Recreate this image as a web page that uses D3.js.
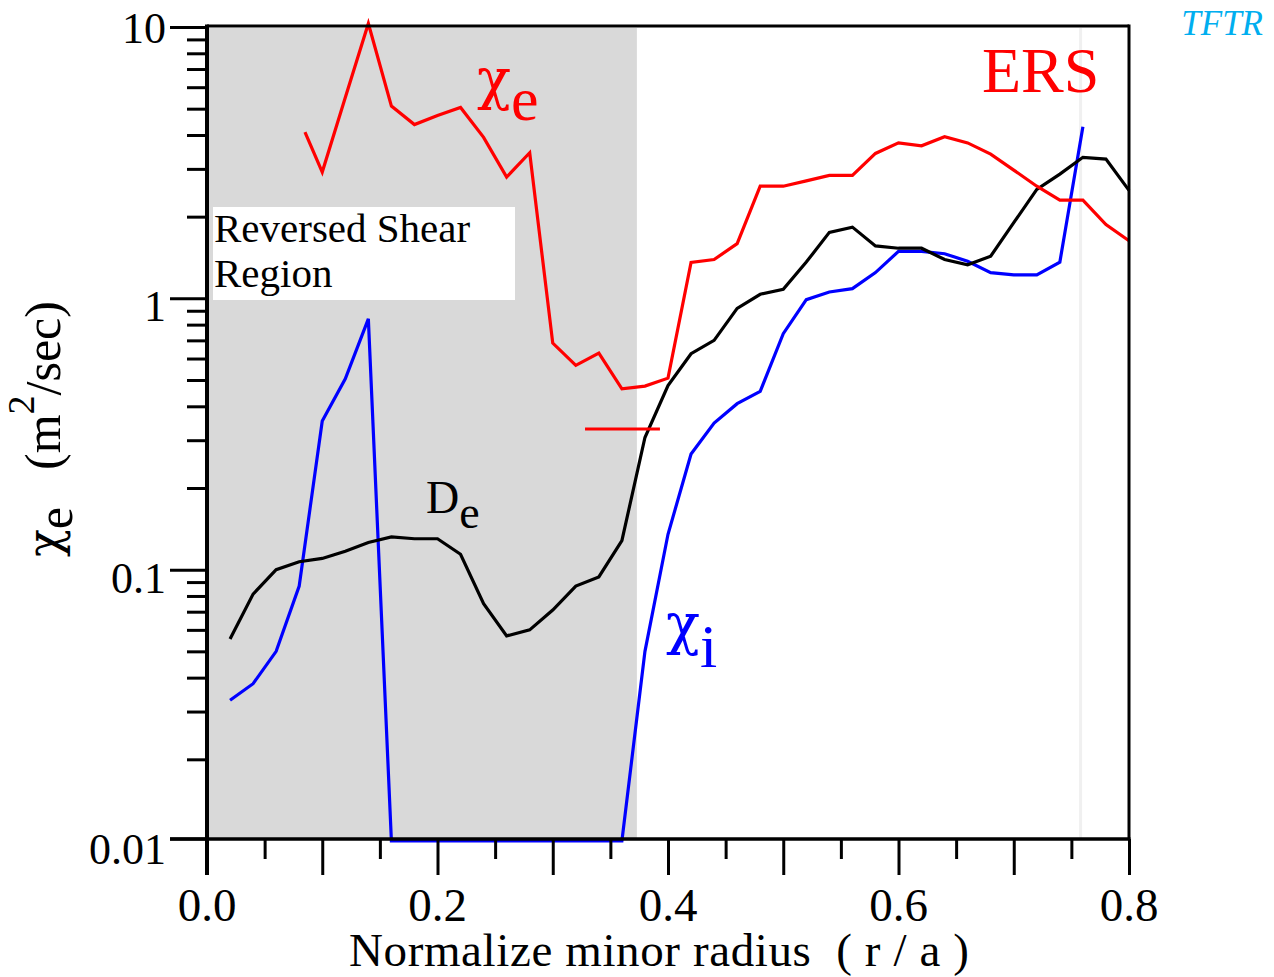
<!DOCTYPE html>
<html>
<head>
<meta charset="utf-8">
<script src="https://cdn.jsdelivr.net/npm/d3@7"></script>
<style>
  body { margin: 0; background: #fff; }
  text { font-family: "Liberation Serif", "Times New Roman", serif; }
  .chi { font-family: "DejaVu Serif", serif; }
</style>
</head>
<body>
<div id="chart"></div>
<script>
// r/a grid shared by the profiles
var radius = [0.02, 0.04, 0.06, 0.08, 0.10, 0.12, 0.14, 0.16, 0.18, 0.20,
  0.22, 0.24, 0.26, 0.28, 0.30, 0.32, 0.34, 0.36, 0.38, 0.40,
  0.42, 0.44, 0.46, 0.48, 0.50, 0.52, 0.54, 0.56, 0.58, 0.60,
  0.62, 0.64, 0.66, 0.68, 0.70, 0.72, 0.74, 0.76, 0.78, 0.80];

// D_e (black)
var De = [0.0555, 0.0813, 0.100, 0.107, 0.110, 0.117, 0.126, 0.132, 0.130, 0.130,
  0.114, 0.075, 0.057, 0.060, 0.071, 0.087, 0.094, 0.128, 0.307, 0.477,
  0.625, 0.700, 0.918, 1.035, 1.08, 1.36, 1.75, 1.83, 1.56, 1.53,
  1.53, 1.39, 1.33, 1.43, 1.90, 2.52, 2.87, 3.31, 3.26, 2.50];

// chi_i (blue), ends at r/a = 0.76
var chiI = [0.033, 0.038, 0.050, 0.087, 0.353, 0.505, 0.84, 0.01, 0.01, 0.01,
  0.01, 0.01, 0.01, 0.01, 0.01, 0.01, 0.01, 0.01, 0.050, 0.135,
  0.267, 0.347, 0.409, 0.454, 0.741, 0.989, 1.055, 1.086, 1.244, 1.49,
  1.49, 1.46, 1.37, 1.244, 1.22, 1.22, 1.36, 4.29];

// chi_e (red) starts a bit later
var chiER = [0.085, 0.10, 0.12, 0.14, 0.16, 0.18, 0.20, 0.22, 0.24, 0.26,
  0.28, 0.30, 0.32, 0.34, 0.36, 0.38, 0.40, 0.42, 0.44, 0.46,
  0.48, 0.50, 0.52, 0.54, 0.56, 0.58, 0.60, 0.62, 0.64, 0.66,
  0.68, 0.70, 0.72, 0.74, 0.76, 0.78, 0.80];
var chiE = [4.10, 2.92, 5.5, 10.3, 5.11, 4.37, 4.72, 5.05, 3.92, 2.80,
  3.44, 0.684, 0.566, 0.628, 0.464, 0.475, 0.508, 1.355, 1.39, 1.59,
  2.59, 2.59, 2.71, 2.84, 2.84, 3.42, 3.74, 3.65, 3.94, 3.74,
  3.40, 2.97, 2.59, 2.30, 2.30, 1.87, 1.63];

// short red level bar
var barR = [0.328, 0.393];
var barVal = [0.33, 0.33];

// reversed shear region
var shearR = [0, 0.373];

var xTicks = [0, 0.2, 0.4, 0.6, 0.8];
var xTickLabels = ["0.0", "0.2", "0.4", "0.6", "0.8"];
var yTicks = [10, 1, 0.1, 0.01];
var yTickLabels = ["10", "1", "0.1", "0.01"];

var width = 1274;
var height = 977;

var svg = d3.select("#chart").append("svg").attr("width", width).attr("height", height);

var x = d3.scaleLinear().domain([0, 0.8]).range([207, 1129]);
var y = d3.scaleLog().domain([0.01, 10]).range([841, 27]);
var axisY = 839;

// grey shaded region
svg.append("rect")
  .attr("x", x(shearR[0])).attr("y", 28)
  .attr("width", x(shearR[1]) - x(shearR[0])).attr("height", axisY - 28)
  .attr("fill", "#d9d9d9");

// faint vertical line near the edge
svg.append("line")
  .attr("x1", x(0.758)).attr("x2", x(0.758)).attr("y1", 28).attr("y2", axisY)
  .attr("stroke", "#f0f0f0").attr("stroke-width", 3);

// reversed shear label box
svg.append("rect").attr("x", 213).attr("y", 207).attr("width", 302).attr("height", 93).attr("fill", "#fff");
svg.append("text").attr("x", 214).attr("y", 242).attr("font-size", 41).text("Reversed Shear");
svg.append("text").attr("x", 214).attr("y", 287).attr("font-size", 41).text("Region");

var line = d3.line().x(function (d) { return x(d[0]); }).y(function (d) { return y(d[1]); });

function pairs(rs, vs) {
  return vs.map(function (v, i) { return [rs[i], v]; });
}

svg.append("path").datum(pairs(radius, chiI))
  .attr("d", line).attr("fill", "none").attr("stroke", "#0000ff").attr("stroke-width", 3.2);
svg.append("path").datum(pairs(radius, De))
  .attr("d", line).attr("fill", "none").attr("stroke", "#000").attr("stroke-width", 3.2);
svg.append("path").datum(pairs(chiER, chiE))
  .attr("d", line).attr("fill", "none").attr("stroke", "#ff0000").attr("stroke-width", 3.2);
svg.append("path").datum(pairs(barR, barVal))
  .attr("d", line).attr("fill", "none").attr("stroke", "#ff0000").attr("stroke-width", 3.2);

// frame
var frame = svg.append("g").attr("stroke", "#000").attr("fill", "none");
frame.append("line").attr("x1", 207).attr("x2", 1129).attr("y1", 26).attr("y2", 26).attr("stroke-width", 3);
frame.append("line").attr("x1", 1129).attr("x2", 1129).attr("y1", 24.5).attr("y2", axisY).attr("stroke-width", 3);

// x axis: ticks every 0.05, longer every 0.1
var xAxis = d3.axisBottom(x).tickValues(d3.range(0, 17).map(function (i) { return i * 0.05; }))
  .tickSize(20).tickSizeOuter(0).tickFormat("");
var gx = svg.append("g").attr("transform", "translate(0," + axisY + ")").call(xAxis);
gx.select(".domain").attr("stroke-width", 3.5).attr("d", "M170,0H1130.5");
gx.selectAll(".tick line").attr("stroke-width", 3)
  .attr("y2", function (d) { return Math.round(d * 20) % 2 === 0 ? 36 : 20; });
svg.selectAll(".xlab").data(xTicks).enter().append("text")
  .attr("x", function (d) { return x(d); }).attr("y", 921)
  .attr("text-anchor", "middle").attr("font-size", 47)
  .text(function (d, i) { return xTickLabels[i]; });

// y axis: log, minor ticks outside
var yMinor = [];
[0.01, 0.1, 1].forEach(function (dec) {
  for (var k = 2; k <= 9; k++) yMinor.push(dec * k);
});
var yAxis = d3.axisLeft(y).tickValues(yMinor.concat(yTicks)).tickSizeOuter(0).tickFormat("");
var gy = svg.append("g").attr("transform", "translate(207,0)").call(yAxis);
gy.select(".domain").attr("stroke-width", 4).attr("d", "M0,24.5V875");
gy.selectAll(".tick line").attr("stroke-width", 3)
  .attr("x2", function (d) { return yTicks.indexOf(d) >= 0 ? -37 : -20; });
gy.selectAll(".tick").filter(function (d) { return d === 0.01; }).attr("transform", "translate(0," + axisY + ")");
svg.selectAll(".ylab").data(yTicks).enter().append("text")
  .attr("x", 166).attr("y", function (d) { return d === 10 ? 43 : y(d) + 23; })
  .attr("text-anchor", "end").attr("font-size", 44)
  .text(function (d, i) { return yTickLabels[i]; });

// axis titles
svg.append("text").attr("x", 659).attr("y", 966).attr("text-anchor", "middle")
  .attr("font-size", 47).attr("textLength", 620).style("white-space", "pre")
  .text("Normalize minor radius  ( r / a )");

var yt = svg.append("text").attr("transform", "translate(60,557) rotate(-90)").attr("font-size", 50);
yt.append("tspan").attr("class", "chi").attr("font-size", 46).text("χ");
yt.append("tspan").attr("dy", 12).text("e");
yt.append("tspan").attr("x", 87).attr("dy", -12).text("(m");
yt.append("tspan").attr("dy", -26).attr("font-size", 38).text("2");
yt.append("tspan").attr("dy", 26).text("/sec)");

// curve labels
var lbE = svg.append("text").attr("x", 477).attr("y", 98).attr("fill", "#ff0000").attr("font-size", 62);
lbE.append("tspan").attr("class", "chi").attr("font-size", 56).text("χ");
lbE.append("tspan").attr("dy", 22).text("e");

var lbI = svg.append("text").attr("x", 666).attr("y", 643).attr("fill", "#0000ff").attr("font-size", 62);
lbI.append("tspan").attr("class", "chi").attr("font-size", 56).text("χ");
lbI.append("tspan").attr("dy", 24).text("i");

var lbD = svg.append("text").attr("x", 426).attr("y", 513).attr("font-size", 46);
lbD.append("tspan").text("D");
lbD.append("tspan").attr("dy", 15).text("e");

svg.append("text").attr("x", 982).attr("y", 92).attr("fill", "#ff0000").attr("font-size", 64).text("ERS");

svg.append("text").attr("x", 1263).attr("y", 35).attr("text-anchor", "end")
  .attr("fill", "#00aeef").attr("font-size", 35).attr("font-style", "italic").text("TFTR");
</script>
</body>
</html>
